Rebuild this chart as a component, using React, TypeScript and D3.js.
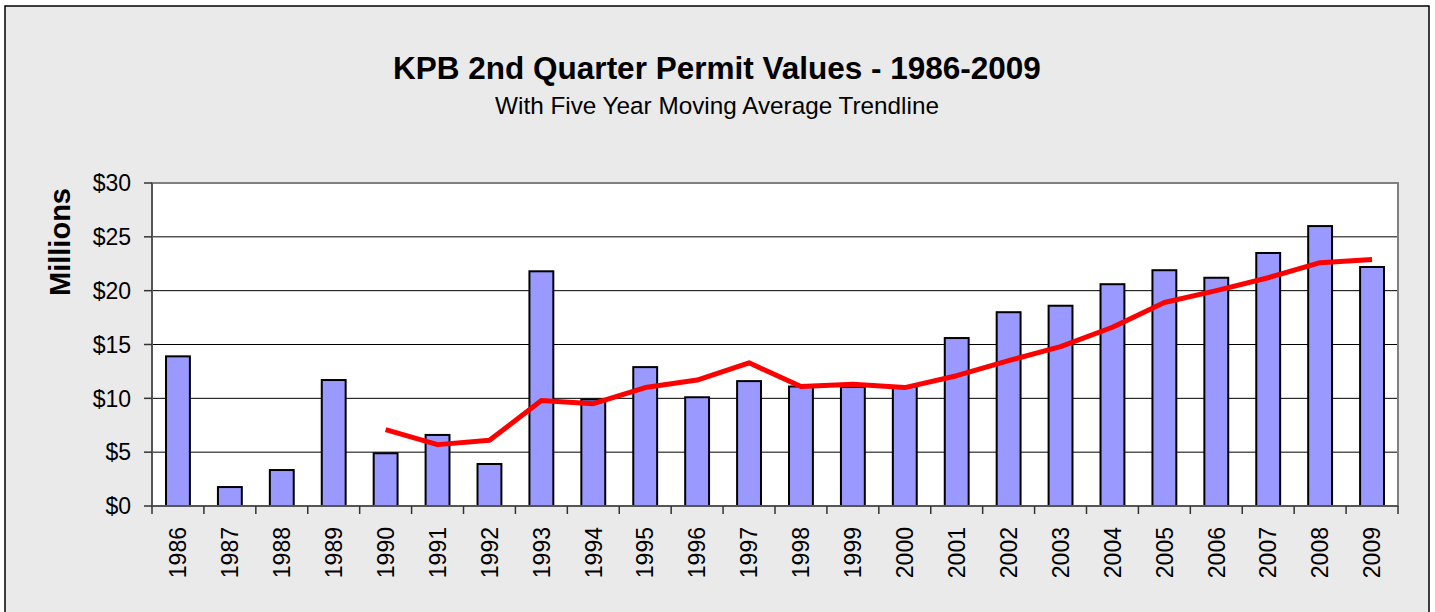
import * as d3 from 'd3';

const YEARS = [
  '1986', '1987', '1988', '1989', '1990', '1991', '1992', '1993', '1994', '1995', '1996', '1997',
  '1998', '1999', '2000', '2001', '2002', '2003', '2004', '2005', '2006', '2007', '2008', '2009',
];

// permit values, $ millions
const PERMIT_VALUES = [
  13.9, 1.76, 3.34, 11.7, 4.9, 6.6, 3.9, 21.8, 9.9, 12.9, 10.1, 11.6,
  11.1, 11.05, 11.1, 15.6, 18.0, 18.6, 20.6, 21.9, 21.2, 23.5, 26.0, 22.2,
];

// five year moving average, starts at 1990
const TREND_YEARS = YEARS.slice(4);
const TREND_VALUES = [
  7.1, 5.7, 6.1, 9.8, 9.5, 11.0, 11.7, 13.3, 11.1, 11.3, 11.0,
  12.1, 13.5, 14.8, 16.6, 18.9, 20.0, 21.2, 22.6, 22.9,
];

const Y_TICKS = [0, 5, 10, 15, 20, 25, 30];

const FONT = '"Liberation Sans", Arial, sans-serif';

export default function App() {
  const width = 1435;
  const height = 612;
  const plot = { left: 152, right: 1398, top: 183, bottom: 506 };

  const x = d3.scaleBand<string>()
    .domain(YEARS)
    .range([plot.left, plot.right])
    .paddingInner(0.54)
    .paddingOuter(0.27);
  const step = x.step();
  const center = (d: string) => (x(d) || 0) + x.bandwidth() / 2;

  const y = d3.scaleLinear().domain([0, 30]).range([plot.bottom, plot.top]);

  const line = d3.line<number>()
    .x((_, i) => center(TREND_YEARS[i]))
    .y((d) => y(d));

  const boundaries = d3.range(YEARS.length + 1).map((i) => plot.left + i * step);

  return (
    <svg width={width} height={height} style={{ position: 'absolute', left: 0, top: 0, fontFamily: FONT }}>
      <rect x={0} y={0} width={width} height={height} fill="#ffffff" />
      <rect x={5} y={6} width={1424} height={620} fill="#eaeaea" stroke="#000" strokeWidth={1.5} />

      <text x={717} y={79} textAnchor="middle" fontSize={31.5} fontWeight="bold" fill="#000">
        KPB 2nd Quarter Permit Values - 1986-2009
      </text>
      <text x={717} y={114} textAnchor="middle" fontSize={24.3} fill="#000">
        With Five Year Moving Average Trendline
      </text>

      <rect x={plot.left} y={plot.top} width={plot.right - plot.left} height={plot.bottom - plot.top} fill="#ffffff" />

      {/* gridlines */}
      {Y_TICKS.filter((t) => t > 0 && t < 30).map((t) => (
        <line key={t} x1={plot.left} x2={plot.right} y1={y(t)} y2={y(t)} stroke="#000" strokeWidth={1} />
      ))}

      {/* plot frame */}
      <rect
        x={plot.left}
        y={plot.top}
        width={plot.right - plot.left}
        height={plot.bottom - plot.top}
        fill="none"
        stroke="#808080"
        strokeWidth={2}
      />

      {/* bars */}
      {YEARS.map((yr, i) => (
        <rect
          key={yr}
          x={x(yr)}
          y={y(PERMIT_VALUES[i])}
          width={x.bandwidth()}
          height={y(0) - y(PERMIT_VALUES[i])}
          fill="#9999ff"
          stroke="#000"
          strokeWidth={2}
        />
      ))}

      {/* trend line */}
      <path d={line(TREND_VALUES) || ''} fill="none" stroke="#ff0000" strokeWidth={5} strokeLinejoin="round" />

      {/* axes */}
      <line x1={plot.left} x2={plot.left} y1={plot.top} y2={plot.bottom} stroke="#555" strokeWidth={2} />
      <line x1={plot.left} x2={plot.right} y1={plot.bottom} y2={plot.bottom} stroke="#555" strokeWidth={2} />

      {Y_TICKS.map((t) => (
        <g key={t}>
          <line x1={plot.left - 8} x2={plot.left} y1={y(t)} y2={y(t)} stroke="#333" strokeWidth={1.5} />
          <text x={131} y={y(t)} dy="0.36em" textAnchor="end" fontSize={23} fill="#000">
            {`$${t}`}
          </text>
        </g>
      ))}

      {boundaries.map((bx, i) => (
        <line key={i} x1={bx} x2={bx} y1={plot.bottom} y2={plot.bottom + 8} stroke="#333" strokeWidth={1.5} />
      ))}

      {YEARS.map((yr) => (
        <text
          key={yr}
          transform={`translate(${center(yr)},527) rotate(-90)`}
          dy="0.36em"
          textAnchor="end"
          fontSize={23}
          fill="#000"
        >
          {yr}
        </text>
      ))}

      <text
        transform="translate(60,242) rotate(-90)"
        dy="0.36em"
        textAnchor="middle"
        fontSize={29}
        fontWeight="bold"
        fill="#000"
      >
        Millions
      </text>
    </svg>
  );
}
